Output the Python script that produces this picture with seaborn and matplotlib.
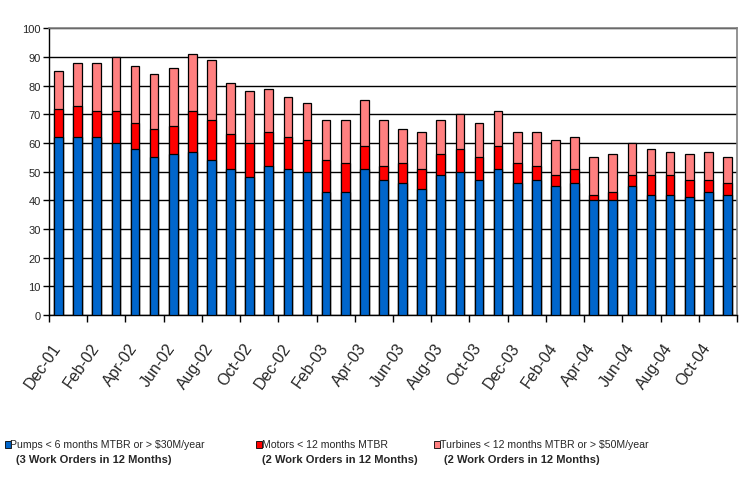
import matplotlib
matplotlib.use('Agg')
import matplotlib.pyplot as plt
import matplotlib.transforms as mtransforms
import seaborn as sns
import pandas as pd
from matplotlib.patches import Rectangle

# months on the x axis
months = ['Dec-01', 'Jan-02', 'Feb-02', 'Mar-02', 'Apr-02', 'May-02', 'Jun-02', 'Jul-02', 'Aug-02',
          'Sep-02', 'Oct-02', 'Nov-02', 'Dec-02', 'Jan-03', 'Feb-03', 'Mar-03', 'Apr-03', 'May-03',
          'Jun-03', 'Jul-03', 'Aug-03', 'Sep-03', 'Oct-03', 'Nov-03', 'Dec-03', 'Jan-04', 'Feb-04',
          'Mar-04', 'Apr-04', 'May-04', 'Jun-04', 'Jul-04', 'Aug-04', 'Sep-04', 'Oct-04', 'Nov-04']

# counts per category (stacked)
pumps = [62, 62, 62, 60, 58, 55, 56, 57, 54, 51, 48, 52, 51, 50, 43, 43, 51, 47,
         46, 44, 49, 50, 47, 51, 46, 47, 45, 46, 40, 40, 45, 42, 42, 41, 43, 42]
motors = [10, 11, 9, 11, 9, 10, 10, 14, 14, 12, 12, 12, 11, 11, 11, 10, 8, 5,
          7, 7, 7, 8, 8, 8, 7, 5, 4, 5, 2, 3, 4, 7, 7, 6, 4, 4]
turbines = [13, 15, 17, 19, 20, 19, 20, 20, 21, 18, 18, 15, 14, 13, 14, 15, 16, 16,
            12, 13, 12, 12, 12, 12, 11, 12, 12, 11, 13, 13, 11, 9, 8, 9, 10, 9]

legend_labels = ['Pumps < 6 months MTBR or > $30M/year',
                 'Motors < 12 months MTBR',
                 'Turbines < 12 months MTBR or > $50M/year']
legend_sub = ['(3 Work Orders in 12 Months)',
              '(2 Work Orders in 12 Months)',
              '(2 Work Orders in 12 Months)']
colors = ['#0066CC', '#FF0000', '#FF8080']

df = pd.DataFrame({'month': months, 'pumps': pumps, 'motors': motors, 'turbines': turbines})
df['red_top'] = df['pumps'] + df['motors']
df['total'] = df['red_top'] + df['turbines']

sns.set_style('white')
plt.rcParams['font.family'] = ['Liberation Sans', 'DejaVu Sans']

W, H = 748, 481
fig = plt.figure(figsize=(W / 100, H / 100), dpi=100)
ax = fig.add_axes([49 / W, (H - 316) / H, (737 - 49) / W, (316 - 29.3) / H])

# overlapping bars: total first, then lower stacks on top
for col, c in zip(['total', 'red_top', 'pumps'], colors[::-1]):
    sns.barplot(data=df, x='month', y=col, color=c, edgecolor='black', linewidth=0.9,
                width=0.45, saturation=1, ax=ax, zorder=3)

ax.set_xlim(-0.5, len(months) - 0.5)
ax.set_ylim(0, 100)
ax.set_yticks(range(0, 101, 10))
ax.yaxis.grid(True, color='black', linewidth=1)
ax.set_axisbelow(True)
ax.set_xlabel('')
ax.set_ylabel('')
ax.tick_params(axis='y', labelsize=8, length=4, width=1, color='black', direction='out', left=True, pad=2)

# boundary ticks every 2 months, labels under the labelled bars
ax.set_xticks([i - 0.5 for i in range(0, len(months) + 1, 2)])
ax.set_xticklabels([])
ax.tick_params(axis='x', which='major', length=5, width=1, color='black', direction='out', bottom=True)
ax.set_xticks(list(range(0, len(months), 2)), minor=True)
ax.set_xticklabels(months[::2], minor=True, rotation=55, ha='right', va='top',
                   rotation_mode='anchor', fontsize=11.5)
ax.tick_params(axis='x', which='minor', length=0, pad=18)
shift = mtransforms.ScaledTranslation(-7 / 100, 0, fig.dpi_scale_trans)
for lab in ax.get_xticklabels(minor=True):
    lab.set_transform(lab.get_transform() + shift)

for s in ['left', 'bottom']:
    ax.spines[s].set_color('black')
    ax.spines[s].set_linewidth(1)
for s in ['top', 'right']:
    ax.spines[s].set_color('#808080')
    ax.spines[s].set_linewidth(1.2)

# legend at the bottom
sq_x = [5, 256, 434]
txt_x = [10, 262, 440]
sub_x = [16, 262, 444]
for i in range(3):
    fig.patches.append(Rectangle((sq_x[i] / W, (H - 449) / H), 6 / W, 7 / H, transform=fig.transFigure,
                                 facecolor=colors[i], edgecolor='black', linewidth=0.6))
    fig.text(txt_x[i] / W, (H - 445) / H, legend_labels[i], fontsize=7.6, va='center', ha='left')
    fig.text(sub_x[i] / W, (H - 460) / H, legend_sub[i], fontsize=8, fontweight='bold',
             va='center', ha='left')

fig.savefig('out.png', dpi=100)
